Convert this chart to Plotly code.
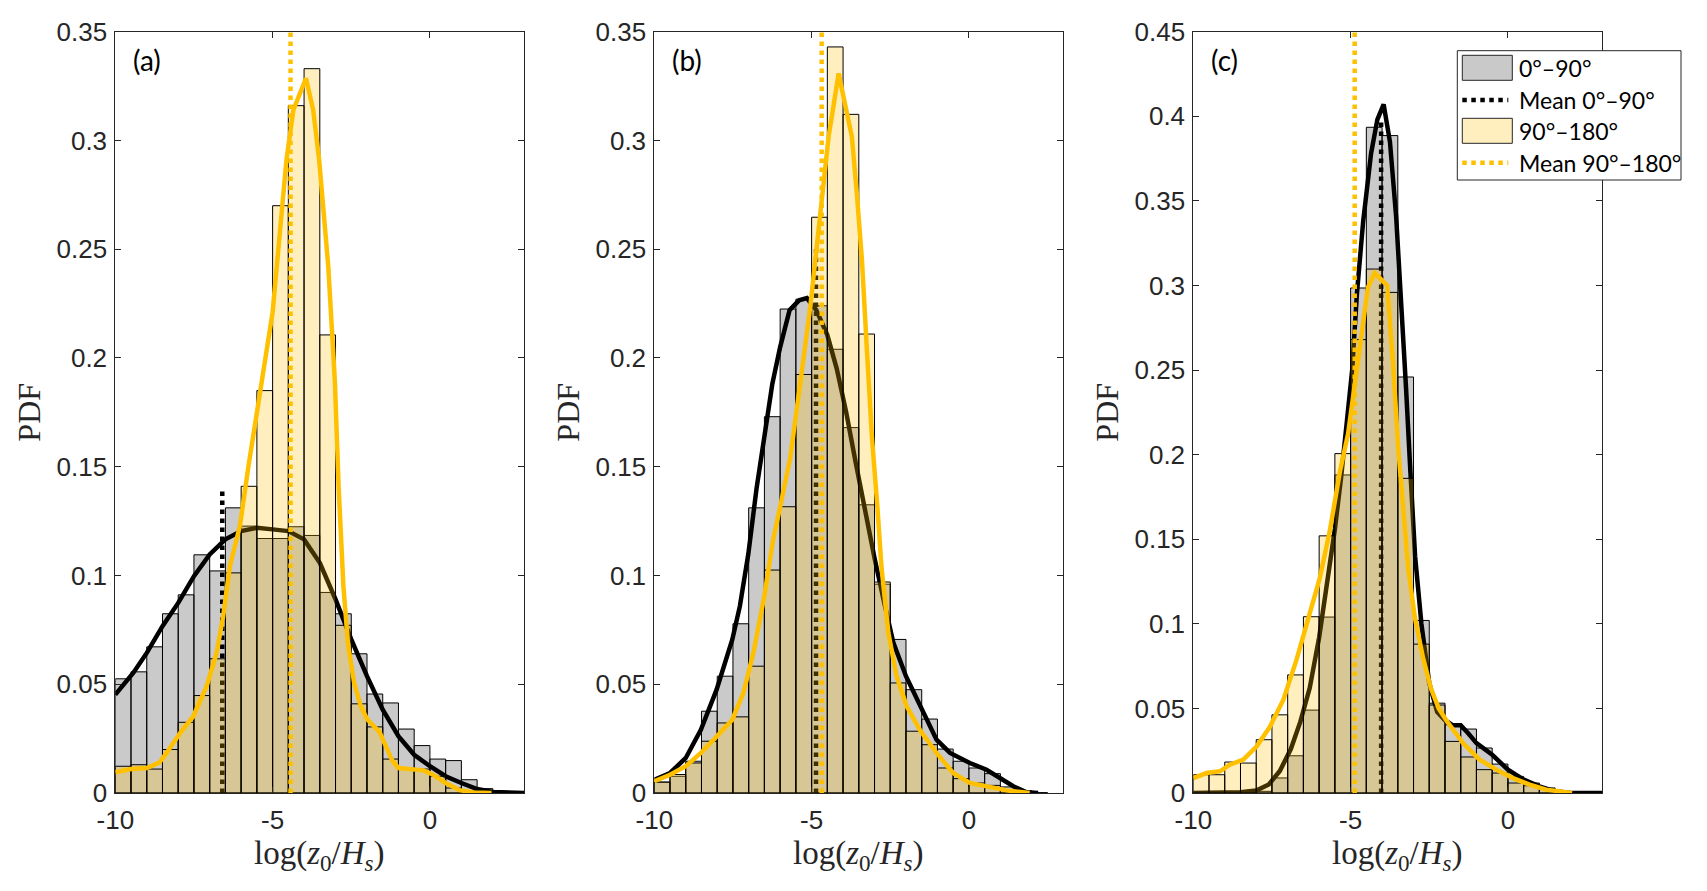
import plotly.graph_objects as go

# ---- data (PDF of log(z0/Hs), bins 0.5 wide) ----
bin_mid = [-9.75, -9.25, -8.75, -8.25, -7.75, -7.25, -6.75, -6.25, -5.75, -5.25,
           -4.75, -4.25, -3.75, -3.25, -2.75, -2.25, -1.75, -1.25, -0.75, -0.25,
           0.25, 0.75, 1.25, 1.75, 2.25]

# panel (a)
gray_a = [0.0525, 0.0557, 0.0672, 0.0824, 0.0911, 0.1095, 0.1021, 0.1311, 0.1227, 0.1170,
          0.1170, 0.1224, 0.1184, 0.0922, 0.0824, 0.0640, 0.0455, 0.0414, 0.0294, 0.0218,
          0.0156, 0.0149, 0.0061, 0.0020, 0.0]
yel_a = [0.0123, 0.0130, 0.0110, 0.0200, 0.0325, 0.0448, 0.0617, 0.1012, 0.1410, 0.1850,
         0.2700, 0.3160, 0.3330, 0.2106, 0.0771, 0.0410, 0.0304, 0.0156, 0.0110, 0.0110,
         0.0077, 0.0023, 0.0010, 0.0005, 0.0]
kde_gray_a_x = [-10, -9.43, -9.0, -8.5, -8.0, -7.5, -7.0, -6.5, -6.0, -5.5, -5.0, -4.5, -4.0,
                -3.5, -3.0, -2.5, -2.0, -1.5, -1.0, -0.5, 0.0, 0.5, 1.0, 1.5, 2.0, 2.5, 3.0]
kde_gray_a_y = [0.0452, 0.0552, 0.0644, 0.0767, 0.0874, 0.0997, 0.1097, 0.1166, 0.1204, 0.1219,
                0.1212, 0.1204, 0.1166, 0.1058, 0.0890, 0.0706, 0.0537, 0.0383, 0.0261, 0.0176,
                0.0123, 0.0077, 0.0046, 0.0018, 0.0005, 0.0001, 0.0]
kde_yel_a_x = [-10, -9.5, -9.0, -8.6, -8.37, -7.94, -7.52, -7.1, -6.78, -6.57, -6.36, -6.04,
               -5.77, -5.5, -5.25, -5.0, -4.77, -4.56, -4.34, -3.94, -3.71, -3.52, -3.23, -3.02,
               -2.9, -2.75, -2.6, -2.4, -2.2, -2.0, -1.6, -1.4, -1.2, -1.0, -0.5, -0.2, 0.1,
               0.5, 0.95, 1.4, 1.96]
kde_yel_a_y = [0.0095, 0.0110, 0.0115, 0.0140, 0.0184, 0.0276, 0.0353, 0.0490, 0.0644, 0.0813,
               0.1040, 0.1227, 0.1500, 0.1760, 0.1980, 0.2210, 0.2575, 0.2910, 0.3140, 0.3286,
               0.3140, 0.2910, 0.2420, 0.1890, 0.1400, 0.0950, 0.0680, 0.0500, 0.0400, 0.0340,
               0.0280, 0.0220, 0.0150, 0.0115, 0.0105, 0.0104, 0.0084, 0.0046, 0.0013, 0.0002, 0.0]

# panel (b)
gray_b = [0.0050, 0.0077, 0.0146, 0.0376, 0.0537, 0.0778, 0.1311, 0.1730, 0.2225, 0.2270,
          0.2240, 0.2040, 0.1680, 0.1325, 0.0960, 0.0706, 0.0475, 0.0340, 0.0202, 0.0146,
          0.0115, 0.0089, 0.0028, 0.0010, 0.0]
yel_b = [0.0050, 0.0085, 0.0138, 0.0238, 0.0322, 0.0350, 0.0583, 0.1025, 0.1316, 0.1924,
         0.2647, 0.3430, 0.3120, 0.2110, 0.0970, 0.0506, 0.0284, 0.0222, 0.0115, 0.0066,
         0.0046, 0.0035, 0.0015, 0.0005, 0.0]
kde_gray_b_x = [-10, -9.5, -9.0, -8.52, -8.02, -7.52, -7.28, -7.01, -6.75, -6.5, -6.25, -6.0,
                -5.7, -5.4, -5.15, -4.85, -4.5, -4.2, -3.9, -3.6, -3.3, -3.0, -2.7, -2.4, -2.0,
                -1.56, -1.03, -0.6, 0.03, 0.56, 0.99, 1.41, 1.83, 2.2]
kde_gray_b_y = [0.0061, 0.0092, 0.0161, 0.0291, 0.0475, 0.0706, 0.0859, 0.1100, 0.1400, 0.1650,
                0.1880, 0.2050, 0.2220, 0.2265, 0.2275, 0.2220, 0.2105, 0.1950, 0.1750, 0.1520,
                0.1290, 0.1080, 0.0880, 0.0690, 0.0537, 0.0400, 0.0245, 0.0184, 0.0138, 0.0107,
                0.0069, 0.0031, 0.0003, 0.0]
kde_yel_b_x = [-10, -9.5, -9.0, -8.52, -8.02, -7.52, -7.17, -6.85, -6.51, -6.22, -5.95, -5.68,
               -5.36, -5.04, -4.83, -4.62, -4.46, -4.14, -3.89, -3.72, -3.56, -3.4, -3.24, -3.08,
               -2.92, -2.78, -2.56, -2.3, -1.98, -1.56, -1.03, -0.5, 0.03, 0.56, 1.2, 1.93]
kde_yel_b_y = [0.0054, 0.0084, 0.0123, 0.0184, 0.0260, 0.0337, 0.0460, 0.0644, 0.0900, 0.1166,
               0.1350, 0.1540, 0.1885, 0.2238, 0.2521, 0.2787, 0.3017, 0.3308, 0.3140, 0.3017,
               0.2751, 0.2450, 0.2030, 0.1630, 0.1336, 0.1040, 0.0736, 0.0537, 0.0400, 0.0290,
               0.0184, 0.0092, 0.0046, 0.0031, 0.0012, 0.0]

# panel (c)
gray_c = [0.0, 0.0, 0.0, 0.0005, 0.0010, 0.0089, 0.0220, 0.0490, 0.1040, 0.1880,
          0.2985, 0.3935, 0.3886, 0.2459, 0.1020, 0.0531, 0.0403, 0.0378, 0.0266, 0.0171,
          0.0098, 0.0059, 0.0030, 0.0005, 0.0]
yel_c = [0.0108, 0.0108, 0.0183, 0.0177, 0.0315, 0.0462, 0.0698, 0.1042, 0.1520, 0.2006,
         0.2680, 0.3097, 0.2959, 0.1860, 0.0880, 0.0520, 0.0305, 0.0213, 0.0138, 0.0118,
         0.0059, 0.0043, 0.0024, 0.0005, 0.0]
kde_gray_c_x = [-10, -9.0, -8.5, -8.0, -7.6, -7.25, -6.9, -6.6, -6.3, -6.0, -5.75, -5.5, -5.3,
                -5.1, -4.95, -4.8, -4.6, -4.35, -4.15, -3.95, -3.75, -3.55, -3.38, -3.24, -3.1,
                -2.95, -2.75, -2.5, -2.25, -2.0, -1.75, -1.5, -1.25, -1.0, -0.5, 0.0, 0.5, 1.0,
                1.5, 2.0, 3.0]
kde_gray_c_y = [0.0, 0.0, 0.0005, 0.0015, 0.0050, 0.0130, 0.0260, 0.0420, 0.0620, 0.0920,
                0.1220, 0.1560, 0.1870, 0.2200, 0.2500, 0.2950, 0.3380, 0.3780, 0.3980, 0.4070,
                0.3850, 0.3400, 0.2900, 0.2400, 0.1900, 0.1400, 0.1000, 0.0650, 0.0480, 0.0430,
                0.0400, 0.0400, 0.0350, 0.0295, 0.0226, 0.0138, 0.0079, 0.0039, 0.0010, 0.0, 0.0]
kde_yel_c_x = [-10, -9.58, -9.15, -8.84, -8.41, -7.99, -7.57, -7.14, -6.72, -6.3, -5.98, -5.66,
               -5.34, -5.08, -4.87, -4.66, -4.45, -4.23, -3.84, -3.65, -3.49, -3.33, -3.17,
               -2.96, -2.7, -2.45, -2.2, -1.96, -1.43, -0.9, -0.37, 0.16, 0.69, 1.22, 2.04]
kde_yel_c_y = [0.0088, 0.0118, 0.0128, 0.0167, 0.0197, 0.0275, 0.0390, 0.0550, 0.0787, 0.1050,
               0.1270, 0.1550, 0.1900, 0.2123, 0.2412, 0.2676, 0.2989, 0.3073, 0.3001, 0.2532,
               0.2051, 0.1690, 0.1330, 0.1040, 0.0800, 0.0620, 0.0500, 0.0430, 0.0295, 0.0197,
               0.0138, 0.0088, 0.0049, 0.0020, 0.0]

# mean lines (x position, drawn height)
mean_gray = [-6.60, -4.86, -4.03]
mean_gray_top = [0.140, 0.250, 0.397]
mean_yel = [-4.43, -4.68, -4.87]
mean_yel_top = [0.35, 0.35, 0.45]

panel_labels = ["(a)", "(b)", "(c)"]
y_max = [0.35, 0.35, 0.45]
xtick_vals = [-10, -5, 0]
xtick_text = ["-10", "-5", "0"]
legend_names = ["0°–90°", "Mean 0°–90°", "90°–180°", "Mean 90°–180°"]

# ---- styling ----
W, H = 1707, 891
GRAY_FILL = "rgba(128,128,128,0.42)"
YEL_FILL = "rgba(255,192,0,0.25)"
GOLD = "#FFC000"
TXT = "#262626"
LW = 4.5
TICK_FONT = dict(family="Liberation Sans, Arial", size=26, color=TXT)
SERIF = "Liberation Serif, Times New Roman"
SANS2 = "Lato, Open Sans"

left_px = [115.3, 654.3, 1193.3]
plot_w = 409.0
top_px, bot_px = 31.7, 793.0


def px_x(v):
    return v / W


def px_y(v):
    return 1 - v / H


panels = [
    (gray_a, yel_a, kde_gray_a_x, kde_gray_a_y, kde_yel_a_x, kde_yel_a_y),
    (gray_b, yel_b, kde_gray_b_x, kde_gray_b_y, kde_yel_b_x, kde_yel_b_y),
    (gray_c, yel_c, kde_gray_c_x, kde_gray_c_y, kde_yel_c_x, kde_yel_c_y),
]

fig = go.Figure()
layout = {}
annotations = []

for i, (g, yl, gx, gy, yx, yy) in enumerate(panels):
    n = "" if i == 0 else str(i + 1)
    o = str(i + 4)
    xa, ya = "x" + n, "y" + n
    xo, yo = "x" + o, "y" + o

    # base layer: 0-90 histogram, its KDE and mean
    fig.add_trace(go.Bar(x=bin_mid, y=g, width=0.5, xaxis=xa, yaxis=ya,
                         marker=dict(color=GRAY_FILL, line=dict(color="black", width=1)),
                         showlegend=False))
    fig.add_trace(go.Scatter(x=gx, y=gy, mode="lines", xaxis=xa, yaxis=ya,
                             line=dict(color="black", width=LW), cliponaxis=False,
                             showlegend=False))
    fig.add_trace(go.Scatter(x=[mean_gray[i], mean_gray[i]], y=[0, mean_gray_top[i]],
                             mode="lines", xaxis=xa, yaxis=ya,
                             line=dict(color="black", width=LW, dash="dot"),
                             showlegend=False))
    # overlay layer: 90-180 histogram drawn on top (so black lines show through it)
    fig.add_trace(go.Bar(x=bin_mid, y=yl, width=0.5, xaxis=xo, yaxis=yo,
                         marker=dict(color=YEL_FILL, line=dict(color="black", width=1)),
                         showlegend=False))
    fig.add_trace(go.Scatter(x=yx, y=yy, mode="lines", xaxis=xo, yaxis=yo,
                             line=dict(color=GOLD, width=LW), cliponaxis=False,
                             showlegend=False))
    fig.add_trace(go.Scatter(x=[mean_yel[i], mean_yel[i]], y=[0, mean_yel_top[i]],
                             mode="lines", xaxis=xo, yaxis=yo,
                             line=dict(color=GOLD, width=LW, dash="dot"),
                             showlegend=False))

    dom_x = [px_x(left_px[i]), px_x(left_px[i] + plot_w)]
    dom_y = [px_y(bot_px), px_y(top_px)]
    common = dict(showline=True, linecolor=TXT, linewidth=1, mirror="ticks",
                  ticks="inside", ticklen=6, tickcolor=TXT, showgrid=False,
                  zeroline=False, tickfont=TICK_FONT, automargin=False)
    layout["xaxis" + n] = dict(domain=dom_x, anchor=ya, range=[-10, 3],
                               tickvals=xtick_vals, ticktext=xtick_text,
                               ticklabelstandoff=4, **common)
    layout["yaxis" + n] = dict(domain=dom_y, anchor=xa, range=[0, y_max[i]],
                               dtick=0.05, ticklabelstandoff=2, **common)
    layout["xaxis" + o] = dict(overlaying=xa, anchor=yo, range=[-10, 3], visible=False,
                               automargin=False)
    layout["yaxis" + o] = dict(overlaying=ya, anchor=xo, range=[0, y_max[i]], visible=False,
                               automargin=False)

    cx = left_px[i] + plot_w / 2
    annotations.append(dict(xref="paper", yref="paper", x=px_x(cx), y=px_y(855),
                            text="log(<i>z</i><sub>0</sub>/<i>H<sub>s</sub></i>)",
                            showarrow=False, xanchor="center", yanchor="middle",
                            font=dict(family=SERIF, size=33, color=TXT)))
    annotations.append(dict(xref="paper", yref="paper", x=px_x(left_px[i] - 86),
                            y=px_y((top_px + bot_px) / 2), text="PDF", textangle=-90,
                            showarrow=False, xanchor="center", yanchor="middle",
                            font=dict(family=SERIF, size=32, color=TXT)))
    annotations.append(dict(xref="paper", yref="paper", x=px_x(left_px[i] + 16),
                            y=px_y(60), text=panel_labels[i], showarrow=False,
                            xanchor="left", yanchor="middle",
                            font=dict(family=SANS2, size=28, color="black")))

# ---- hand-built legend in panel (c), MATLAB style ----
shapes = []
lg_l, lg_r, lg_t, lg_b = 1457.3, 1681, 50.7, 180
shapes.append(dict(type="rect", xref="paper", yref="paper", layer="above",
                   x0=px_x(lg_l), x1=px_x(lg_r), y0=px_y(lg_b), y1=px_y(lg_t),
                   line=dict(color=TXT, width=1), fillcolor="white"))
row_y = [67.8, 100.0, 130.8, 162.7]
patch_fill = ["rgb(201,201,201)", None, "rgb(255,239,191)", None]
line_col = [None, "black", None, GOLD]
for k in range(4):
    if patch_fill[k]:
        shapes.append(dict(type="rect", xref="paper", yref="paper", layer="above",
                           x0=px_x(1462.3), x1=px_x(1512.3),
                           y0=px_y(row_y[k] + 12.5), y1=px_y(row_y[k] - 12.5),
                           line=dict(color=TXT, width=1), fillcolor=patch_fill[k]))
    else:
        shapes.append(dict(type="line", xref="paper", yref="paper", layer="above",
                           x0=px_x(1462.3), x1=px_x(1508.3), y0=px_y(row_y[k]), y1=px_y(row_y[k]),
                           line=dict(color=line_col[k], width=LW, dash="dot")))
    annotations.append(dict(xref="paper", yref="paper", x=px_x(1516.5), y=px_y(row_y[k]),
                            text=legend_names[k], showarrow=False, xanchor="left",
                            yanchor="middle", font=dict(family=SANS2, size=23, color="black")))

fig.update_layout(template="none", width=W, height=H,
                  margin=dict(l=0, r=0, t=0, b=0, pad=0, autoexpand=False),
                  paper_bgcolor="white", plot_bgcolor="white", barmode="overlay",
                  showlegend=False, annotations=annotations, shapes=shapes, **layout)

fig.write_html("out.html", config={"displayModeBar": False},
               post_script="document.body.style.margin='0';"
                           "document.body.style.overflow='hidden';")
